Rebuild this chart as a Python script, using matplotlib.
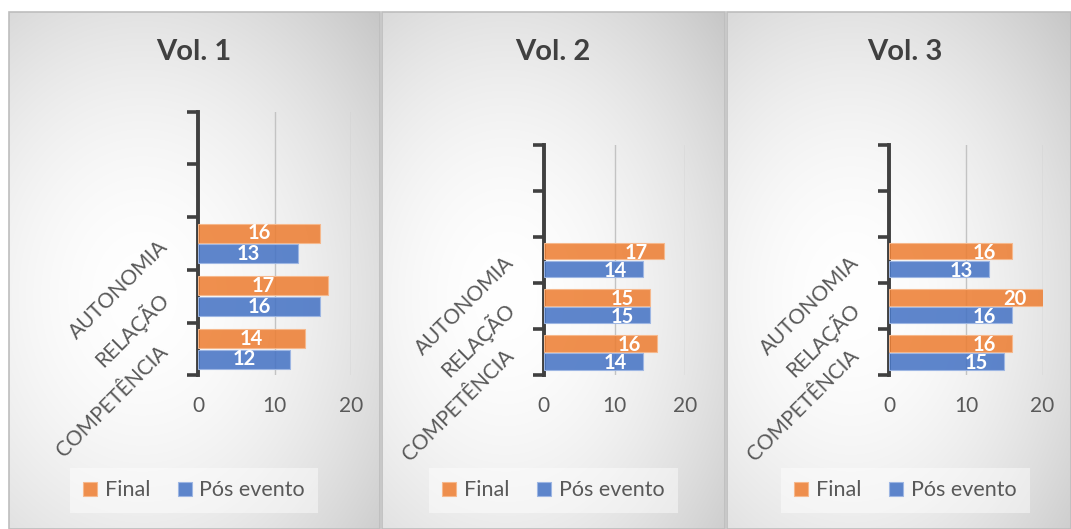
import numpy as np
import matplotlib
matplotlib.use("Agg")
import matplotlib.pyplot as plt
from matplotlib.patches import Rectangle

# ---- data ----
categories = ["COMPETÊNCIA", "RELAÇÃO", "AUTONOMIA", "", ""]
titles = ["Vol. 1", "Vol. 2", "Vol. 3"]
series_names = ["Final", "Pós evento"]
final_vol1 = [14, 17, 16]
pos_vol1 = [12, 16, 13]
final_vol2 = [16, 15, 17]
pos_vol2 = [14, 15, 14]
final_vol3 = [16, 20, 16]
pos_vol3 = [15, 16, 13]
x_ticks = [0, 10, 20]

final_all = [final_vol1, final_vol2, final_vol3]
pos_all = [pos_vol1, pos_vol2, pos_vol3]

# ---- style ----
plt.rcParams['font.family'] = ['Lato', 'DejaVu Sans']
ORANGE = (237/255, 125/255, 49/255, 0.86)
BLUE = (68/255, 114/255, 196/255, 0.86)
ORANGE_EDGE = '#f6b88c'
BLUE_EDGE = '#9db6e3'
AXIS_C = '#404040'
TEXT_C = '#595959'
label_modes = ['center', 'end', 'end']

W, H = 1071, 529
fig = plt.figure(figsize=(W / 100, H / 100), dpi=100)

# background layer in pixel coordinates
bg = fig.add_axes([0, 0, 1, 1])
bg.set_xlim(0, W)
bg.set_ylim(H, 0)
bg.axis('off')

panels = [(9, 380), (382, 725), (727, 1071)]
panel_top, panel_bot = 12, 529
for (px0, px1) in panels:
    pw, ph = px1 - px0, panel_bot - panel_top
    xs = np.linspace(0, 1, pw)
    ys = np.linspace(0, 1, ph)
    X, Y = np.meshgrid(xs, ys)
    r = np.sqrt(((X - 0.36) / 0.85) ** 2 + ((Y - 0.55) / 0.78) ** 2)
    v = 1.0 - 0.21 * np.clip(r, 0, 1.2) ** 1.8
    img = np.dstack([v, v, v])
    bg.imshow(img, extent=(px0, px1, panel_bot, panel_top), origin='upper',
              aspect='auto', interpolation='bilinear', zorder=0)
    bg.add_patch(Rectangle((px0, panel_top), pw, ph, fill=False,
                           ec='#bdbdbd', lw=1.2, zorder=1))

# plot areas (pixel boxes: x0, x1, y_top, y_bottom)
boxes = [(198.3, 351.0, 111.7, 375.3),
         (543.8, 685.5, 145.0, 375.3),
         (889.3, 1042.5, 145.0, 375.3)]
title_x = [194, 553, 905]
legend_boxes = [(70, 318), (429, 678), (781, 1030)]

for k in range(3):
    x0, x1, yt, yb = boxes[k]
    ax = fig.add_axes([x0 / W, 1 - yb / H, (x1 - x0) / W, (yb - yt) / H])
    ax.patch.set_alpha(0)
    n = len(categories)
    ax.set_xlim(0, 20)
    ax.set_ylim(-0.5, n - 0.5)

    idx = np.arange(len(final_all[k]))
    h = 0.36
    off = 0.195
    bf = ax.barh(idx + off, final_all[k], height=h, color=ORANGE,
                 edgecolor=ORANGE_EDGE, linewidth=0.8, zorder=3)
    bp = ax.barh(idx - off, pos_all[k], height=h, color=BLUE,
                 edgecolor=BLUE_EDGE, linewidth=0.8, zorder=3)

    for bars, vals in ((bf, final_all[k]), (bp, pos_all[k])):
        for b, v in zip(bars, vals):
            yc = b.get_y() + b.get_height() / 2
            if label_modes[k] == 'center':
                ax.text(v / 2, yc, f"{v}", ha='center', va='center',
                        color='white', fontsize=14.5, fontweight='bold', zorder=5)
            else:
                ax.annotate(f"{v}", (v, yc), xytext=(-11.5, -1.2),
                            textcoords='offset points', ha='right', va='center',
                            color='white', fontsize=14.5, fontweight='bold', zorder=5)

    ax.set_xticks(x_ticks)
    ax.set_xticklabels([str(t) for t in x_ticks])
    ax.xaxis.grid(True, color='#c3c3c3', linewidth=1.0)
    ax.set_axisbelow(True)
    ax.tick_params(axis='x', length=0, pad=15, labelsize=15, labelcolor=TEXT_C)

    ax.set_yticks(np.arange(-0.5, n, 1.0))
    ax.set_yticklabels([])
    ax.set_yticks(np.arange(n), minor=True)
    ax.set_yticklabels(categories, minor=True, rotation=45, ha='right',
                       va='center', rotation_mode='anchor')
    ax.tick_params(axis='y', which='major', length=8, width=2.6, color=AXIS_C,
                   direction='out')
    ax.tick_params(axis='y', which='minor', length=0, pad=24, labelsize=15,
                   labelcolor=TEXT_C)

    for s in ('top', 'right', 'bottom'):
        ax.spines[s].set_visible(False)
    ax.spines['left'].set_color(AXIS_C)
    ax.spines['left'].set_linewidth(2.8)

    # panel title
    fig.text(title_x[k] / W, 1 - 52 / H, titles[k], ha='center', va='center',
             fontsize=21, fontweight='bold', color=AXIS_C)

    # legend with light backing box
    lx0, lx1 = legend_boxes[k]
    bg.add_patch(Rectangle((lx0, 468), lx1 - lx0, 45, fc='white', alpha=0.45,
                           ec='none', zorder=2))
    handles = [Rectangle((0, 0), 1, 1, fc=ORANGE, ec=ORANGE_EDGE, lw=0.8),
               Rectangle((0, 0), 1, 1, fc=BLUE, ec=BLUE_EDGE, lw=0.8)]
    fig.legend(handles, series_names, loc='center',
               bbox_to_anchor=((lx0 + lx1) / 2 / W, 1 - 490.5 / H),
               ncol=2, frameon=False, fontsize=15.5, handlelength=0.65,
               handleheight=0.65, handletextpad=0.35, columnspacing=1.3,
               labelcolor=TEXT_C)

fig.savefig('out.png', dpi=100)
